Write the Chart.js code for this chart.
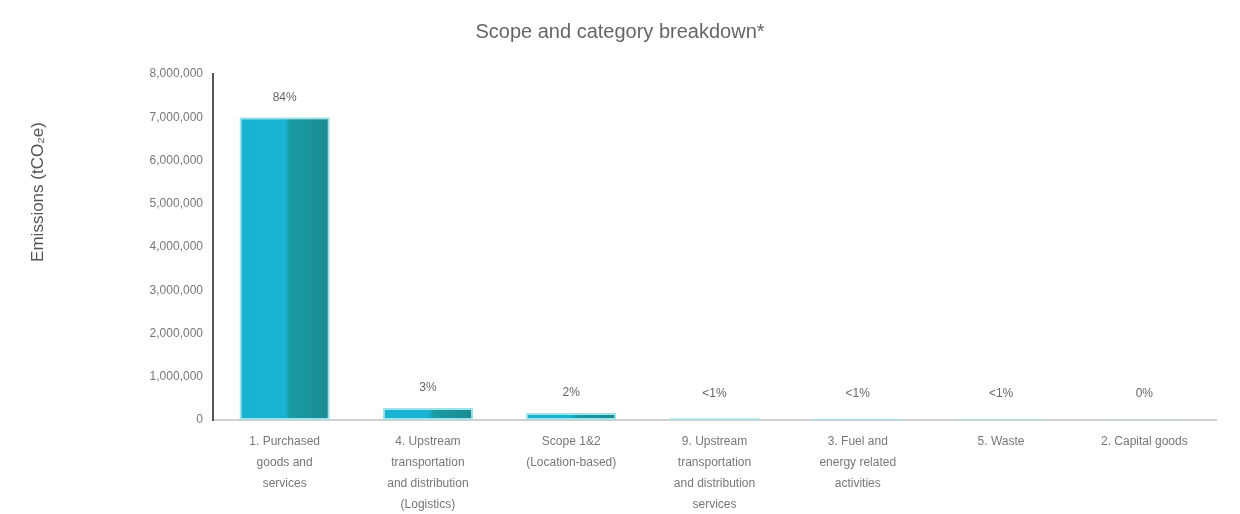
<!DOCTYPE html>
<html>
<head>
<meta charset="utf-8">
<script src="https://cdn.jsdelivr.net/npm/chart.js@4.4.1/dist/chart.umd.min.js"></script>
<style>
  html, body { margin: 0; padding: 0; background: #fff; }
  #wrap { width: 1240px; height: 514px; }
</style>
</head>
<body>
<div id="wrap"><canvas id="scopeChart" width="1240" height="514"></canvas></div>
<script>
// Scope and category breakdown

const categories = [
    ['1. Purchased', 'goods and', 'services'],
    ['4. Upstream', 'transportation', 'and distribution', '(Logistics)'],
    ['Scope 1&2', '(Location-based)'],
    ['9. Upstream', 'transportation', 'and distribution', 'services'],
    ['3. Fuel and', 'energy related', 'activities'],
    ['5. Waste'],
    ['2. Capital goods']
];
const emissions = [7000000, 280000, 160000, 40000, 25000, 20000, 5000];
const shareLabels = ['84%', '3%', '2%', '<1%', '<1%', '<1%', '0%'];
const yTicks = [0, 1000000, 2000000, 3000000, 4000000, 5000000, 6000000, 7000000, 8000000];
const BAR_PCT = 0.63;

// teal/cyan horizontal gradient for each bar
function barFill(context) {
    const chart = context.chart;
    const xs = chart.scales.x;
    if (!chart.chartArea || !xs) return '#1aa3b8';
    const cx = xs.getPixelForValue(context.dataIndex);
    const half = (chart.chartArea.width / categories.length) * BAR_PCT / 2;
    if (!Number.isFinite(cx) || !Number.isFinite(half)) return '#1aa3b8';
    const g = chart.ctx.createLinearGradient(cx - half, 0, cx + half, 0);
    g.addColorStop(0, '#1cb2d2');
    g.addColorStop(0.5, '#18b4d4');
    g.addColorStop(0.56, '#1a9ba2');
    g.addColorStop(1, '#1b8a92');
    return g;
}

// percentage labels above the bars
const shareLabelPlugin = {
    id: 'shareLabels',
    afterDatasetsDraw(chart) {
        const ctx = chart.ctx;
        ctx.save();
        ctx.font = '12px "Liberation Sans", Arial, sans-serif';
        ctx.fillStyle = '#666';
        ctx.textAlign = 'center';
        ctx.textBaseline = 'bottom';
        chart.getDatasetMeta(0).data.forEach((bar, i) => {
            ctx.fillText(shareLabels[i], bar.x, Math.min(bar.y, chart.chartArea.bottom - 6) - 14);
        });
        ctx.restore();
    }
};

// y axis title drawn by hand so it sits where the original has it
const yTitlePlugin = {
    id: 'yTitle',
    afterDraw(chart) {
        const ctx = chart.ctx;
        ctx.save();
        ctx.translate(38, 192);
        ctx.rotate(-Math.PI / 2);
        ctx.font = '17px "Liberation Sans", Arial, sans-serif';
        ctx.fillStyle = '#555';
        ctx.textAlign = 'center';
        ctx.textBaseline = 'middle';
        ctx.fillText('Emissions (tCO\u2082e)', 0, 0);
        ctx.restore();
    }
};

const ctxScope = document.getElementById('scopeChart').getContext('2d');
const scopeChart = new Chart(ctxScope, {
    type: 'bar',
    data: {
        labels: categories,
        datasets: [{
            data: emissions,
            backgroundColor: barFill,
            borderColor: '#9fe3ea',
            borderWidth: 2,
            borderSkipped: false,
            barPercentage: BAR_PCT,
            categoryPercentage: 1
        }]
    },
    options: {
        responsive: false,
        animation: false,
        layout: { padding: { left: 24, right: 24, top: 0, bottom: 0 } },
        plugins: {
            legend: { display: false },
            tooltip: { enabled: false },
            title: {
                display: true,
                text: 'Scope and category breakdown*',
                color: '#666',
                font: { family: '"Liberation Sans", Arial, sans-serif', size: 20, weight: 'normal' },
                padding: { top: 20, bottom: 30 }
            }
        },
        scales: {
            x: {
                grid: { display: false, drawTicks: false },
                border: { color: '#d0d0d0', width: 2 },
                ticks: {
                    color: '#777',
                    font: { family: '"Liberation Sans", Arial, sans-serif', size: 12, lineHeight: 1.75 },
                    maxRotation: 0,
                    autoSkip: false,
                    padding: 11
                },
                afterFit(scale) { scale.height = 94; }
            },
            y: {
                min: 0,
                max: 8000000,
                afterBuildTicks(scale) { scale.ticks = yTicks.map(v => ({ value: v })); },
                grid: { display: false, drawTicks: true, tickLength: 4, tickColor: '#555' },
                border: { color: '#555', width: 2 },
                ticks: {
                    color: '#777',
                    font: { family: '"Liberation Sans", Arial, sans-serif', size: 12 },
                    padding: 6,
                    callback: v => v.toLocaleString('en-US')
                },
                afterFit(scale) { scale.width = 189; }
            }
        }
    },
    plugins: [shareLabelPlugin, yTitlePlugin]
});
</script>
</body>
</html>
